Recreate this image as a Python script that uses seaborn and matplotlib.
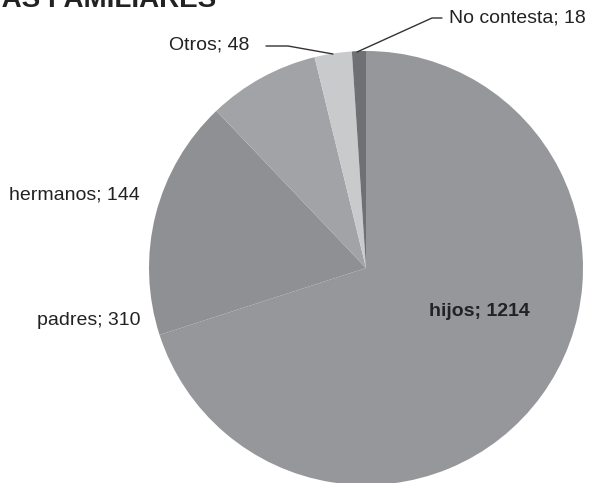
import seaborn as sns
import matplotlib.pyplot as plt

categorias = ['hijos', 'padres', 'hermanos', 'Otros', 'No contesta']
valores = [1214, 310, 144, 48, 18]
colores = ['#96979a', '#8f9093', '#a2a3a6', '#c9cacc', '#6f7073']

sns.set_theme(style="white")
plt.rcParams['font.family'] = ['Liberation Sans', 'DejaVu Sans']

W, H = 589, 483
cx, cy, r = 366, 268, 217


def px(x, y):
    # pixel coords -> data coords (pie radius 1 at center 0,0)
    return (x - cx) / r, (cy - y) / r


fig = plt.figure(figsize=(W / 100, H / 100), dpi=100)
ax = fig.add_axes([0, 0, 1, 1])
ax.pie(valores, colors=colores, startangle=90, counterclock=False,
       radius=1, wedgeprops=dict(linewidth=0))
ax.set_xlim(px(0, 0)[0], px(W, 0)[0])
ax.set_ylim(px(0, H)[1], px(0, 0)[1])
ax.set_aspect('equal')
ax.axis('off')

fs = 14
# etiquetas
ax.text(*px(479, 312), 'hijos; 1214', fontsize=fs, fontweight='bold',
        color='#222222', ha='center', va='center')
ax.text(*px(140, 321), 'padres; 310', fontsize=fs, color='#222222',
        ha='right', va='center')
ax.text(*px(140, 195), 'hermanos; 144', fontsize=fs, color='#222222',
        ha='right', va='center')
ax.text(*px(249, 45), 'Otros; 48', fontsize=fs, color='#222222',
        ha='right', va='center')
ax.text(*px(449, 18), 'No contesta; 18', fontsize=fs, color='#222222',
        ha='left', va='center')

# lineas guia
x1, y1 = zip(px(266, 46), px(288, 46), px(333, 54))
ax.plot(x1, y1, color='#333333', lw=1)
x2, y2 = zip(px(357, 52), px(432, 18), px(442, 18))
ax.plot(x2, y2, color='#333333', lw=1)

# titulo cortado arriba
ax.text(*px(216, 7), 'CARGAS FAMILIARES', fontsize=20, fontweight='bold',
        color='#222222', ha='right', va='baseline')

plt.savefig('out.png', dpi=100)
